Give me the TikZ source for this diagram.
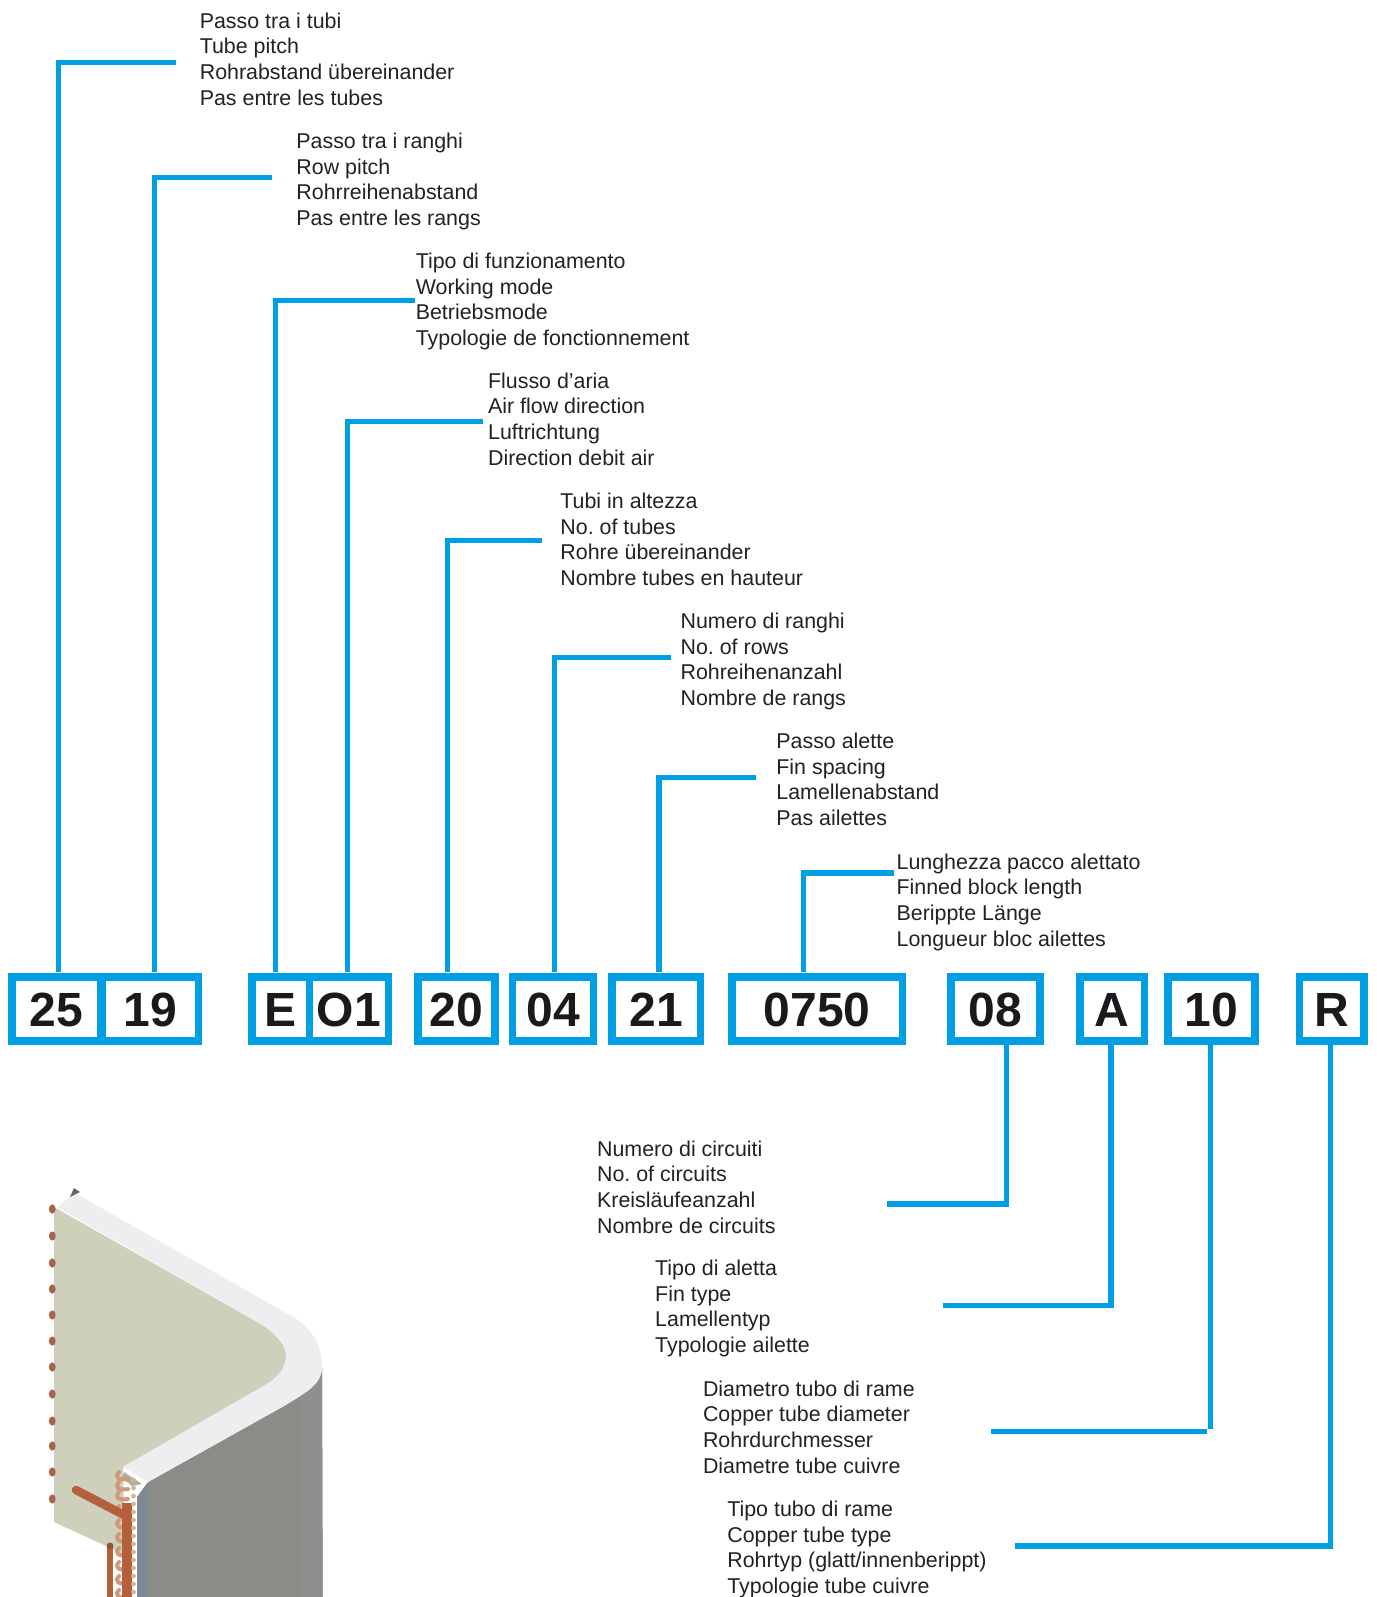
\documentclass[tikz,border=0pt]{standalone}
\usepackage{fontspec}
\setmainfont{Liberation Sans}
\newfontfamily\codefont{Liberation Sans Bold}
\definecolor{cyanline}{HTML}{009FE3}
\definecolor{codeink}{HTML}{1A1A1E}
\definecolor{legendink}{HTML}{222222}
\definecolor{facecream}{HTML}{CFD0BC}
\definecolor{bandwhite}{HTML}{EEEEF0}
\definecolor{sidegrey}{HTML}{8B8C87}
\definecolor{sidelight}{HTML}{8F908D}
\definecolor{stripgrey}{HTML}{7F8695}
\definecolor{copper}{HTML}{B5603C}
\definecolor{stubcopper}{HTML}{A8634B}
\definecolor{coilcream}{HTML}{D9B295}
\tikzset{
  link/.style={draw=cyanline,line width=5.2pt,line join=miter,line cap=butt},
  legend/.style={anchor=north west,inner sep=0pt,align=left,font=\fontsize{21.4}{25.6}\selectfont\frenchspacing,text=legendink},
  outerbox/.style={fill=cyanline,inner sep=0pt,anchor=north west,minimum height=72pt},
  innerbox/.style={fill=white,inner sep=0pt,anchor=north west,text height=45.7pt,text depth=10.3pt,
    font=\fontsize{48}{52}\selectfont\codefont,text=codeink},
}
% name, outer left, inner left, inner right, outer right, text
\newcommand\codebox[6]{%
  \pgfmathsetlengthmacro\outw{(#5-#2)*1pt}%
  \pgfmathsetlengthmacro\innw{(#4-#3)*1pt}%
  \node[outerbox,minimum width=\outw] (#1) at (#2,972.3) {};%
  \node[innerbox,minimum width=\innw] (#1i) at (#3,980.3) {#6};%
}
\begin{document}
\begin{tikzpicture}[x=1pt,y=-1pt]
\useasboundingbox (0,0) rectangle (1376,1597);
\fill[white] (0,0) rectangle (1376,1597);

% --- coil illustration ---
\begin{scope}
\clip (0,1150) rectangle (400,1597);
% cream face
\fill[facecream] (54,1207) -- (266,1327)
  .. controls (277,1336) and (286,1345) .. (286,1356)
  .. controls (286,1366) and (280,1376) .. (267,1384)
  -- (123,1467) -- (125,1555) -- (115,1550) -- (54,1522) -- cycle;
% grey side
\fill[sidegrey] (148,1482) -- (284,1406) .. controls (305,1393) and (322,1385) .. (322,1367) -- (322.7,1597) -- (148,1597) -- cycle;
\fill[sidelight] (300,1392) .. controls (312,1385) and (322,1380) .. (322,1367) -- (322.7,1597) -- (300,1597) -- cycle;
% blue-grey strip
\fill[stripgrey] (137,1497) -- (148,1482) -- (148,1597) -- (137,1597) -- cycle;
% white band
\fill[bandwhite] (57,1207) -- (75,1193) -- (293,1317)
  .. controls (312,1329) and (322,1345) .. (322,1367)
  .. controls (322,1385) and (305,1393) .. (284,1406)
  -- (148,1482) -- (123,1467) -- (267,1384)
  .. controls (280,1376) and (286,1366) .. (286,1356)
  .. controls (286,1345) and (277,1336) .. (266,1327) -- cycle;
% dark tip
\fill[gray!80!black] (70,1197) -- (74,1188) -- (80,1192) -- cycle;
% tube stubs
\foreach \sy in {1209,1236,1263,1289,1315,1341,1367,1394,1421,1446,1472,1499}
  \fill[stubcopper] (52.3,\sy) ellipse (3.4 and 4.6);
% coil bends on the header side
\fill[facecream!60!gray] (124,1472) -- (142,1484) -- (132,1486) -- (122,1478) -- cycle;
\foreach \sy in {1472,1482,1492,1506,1520,1534,1548,1562,1576,1590}
  \draw[draw=coilcream!70!copper,line width=4pt,line cap=round] (119,\sy) .. controls (114,\sy+5) and (119,\sy+9) .. (128,\sy+7);
% copper pipes
\draw[draw=copper,line width=10pt] (127,1503) -- (127,1597);
\draw[draw=copper,line width=6pt] (110,1545) -- (110,1597);
\fill[copper!85!black] (110,1546) circle (3.5);
\draw[draw=copper,line width=8.5pt,line cap=round] (76,1490) -- (124,1515);
% beads
\foreach \sy in {1480,1488,1496,1504,1512,1520,1528,1536,1544,1552,1560,1568,1576,1584,1592}
  \fill[coilcream] (133.5,\sy) circle (2.4);
\end{scope}

% --- code boxes ---
\codebox{b25}{8}{16}{96.3}{106}{25}
\codebox{b19}{98.7}{106}{194.7}{201.9}{19}
\codebox{bE}{247.9}{255.6}{305.3}{313}{E}
\codebox{bO}{305.3}{313}{384.3}{392}{O1}
\codebox{b20}{413.9}{421.6}{490.7}{498.7}{20}
\codebox{b04}{508.4}{516}{589.7}{597}{04}
\codebox{b21}{607.9}{615.6}{696.3}{704}{21}
\codebox{b07}{728}{735.7}{898.3}{906}{0750}
\codebox{b08}{946.9}{954.6}{1035.7}{1043.3}{08}
\codebox{bA}{1076}{1083.7}{1140.3}{1148}{A}
\codebox{b10}{1164}{1171.7}{1250.7}{1258.3}{10}
\codebox{bR}{1295.5}{1303.1}{1359.7}{1367.7}{R}

% --- legends ---
\node[legend] (t25) at (199.6,12.5) {Passo tra i tubi\\Tube pitch\\Rohrabstand übereinander\\Pas entre les tubes};
\node[legend] (t19) at (296.2,132.7) {Passo tra i ranghi\\Row pitch\\Rohrreihenabstand\\Pas entre les rangs};
\node[legend] (tE) at (415.6,253) {Tipo di funzionamento\\Working mode\\Betriebsmode\\Typologie de fonctionnement};
\node[legend] (tO) at (487.9,372.5) {Flusso d’aria\\Air flow direction\\Luftrichtung\\Direction debit air};
\node[legend] (t20) at (560.2,493) {Tubi in altezza\\No. of tubes\\Rohre übereinander\\Nombre tubes en hauteur};
\node[legend] (t04) at (680.4,613) {Numero di ranghi\\No. of rows\\Rohreihenanzahl\\Nombre de rangs};
\node[legend] (t21) at (776.2,733) {Passo alette\\Fin spacing\\Lamellenabstand\\Pas ailettes};
\node[legend] (t07) at (896.4,853.5) {Lunghezza pacco alettato\\Finned block length\\Berippte Länge\\Longueur bloc ailettes};
\node[legend] (t08) at (596.9,1140.5) {Numero di circuiti\\No. of circuits\\Kreisläufeanzahl\\Nombre de circuits};
\node[legend] (tA) at (655,1260) {Tipo di aletta\\Fin type\\Lamellentyp\\Typologie ailette};
\node[legend] (t10) at (702.8,1380.5) {Diametro tubo di rame\\Copper tube diameter\\Rohrdurchmesser\\Diametre tube cuivre};
\node[legend] (tR) at (727.1,1501) {Tipo tubo di rame\\Copper tube type\\Rohrtyp (glatt/innenberippt)\\Typologie tube cuivre};

% --- connector free ends ---
\coordinate (e25) at (176,62.8);   \coordinate (k25) at (58.7,62.8);
\coordinate (e19) at (272,177.5);  \coordinate (k19) at (154.7,177.5);
\coordinate (eE) at (414.6,300.3); \coordinate (kE) at (275.3,300.3);
\coordinate (eO) at (482.8,421.5); \coordinate (kO) at (347.3,421.5);
\coordinate (e20) at (541.9,540.3);\coordinate (k20) at (447.2,540.3);
\coordinate (e04) at (671.3,657.4);\coordinate (k04) at (554.5,657.4);
\coordinate (e21) at (755.8,777.2);\coordinate (k21) at (659,777.2);
\coordinate (e07) at (893.8,873);  \coordinate (k07) at (803.4,873);
\coordinate (e08) at (887.2,1204); \coordinate (k08) at (1006.7,1204);
\coordinate (eA) at (943.2,1305.8);\coordinate (kA) at (1111,1305.8);
\coordinate (eR) at (1015,1546);   \coordinate (kR) at (1330.3,1546);
% the tube-diameter leader stops just short of its vertical
\coordinate (e10) at (991,1431.4); \coordinate (h10) at (1207,1431.4);
\coordinate (k10) at (1210.7,1428.7);

\foreach \n in {25,19,E,O,20,04,21,07}
  \draw[link] (e\n) -- (k\n) -- (k\n |- b\n.north);
\foreach \n in {08,A,R}
  \draw[link] (e\n) -- (k\n) -- (k\n |- b\n.south);
\draw[link] (e10) -- (h10);
\draw[link] (k10) -- (k10 |- b10.south);
\end{tikzpicture}
\end{document}
